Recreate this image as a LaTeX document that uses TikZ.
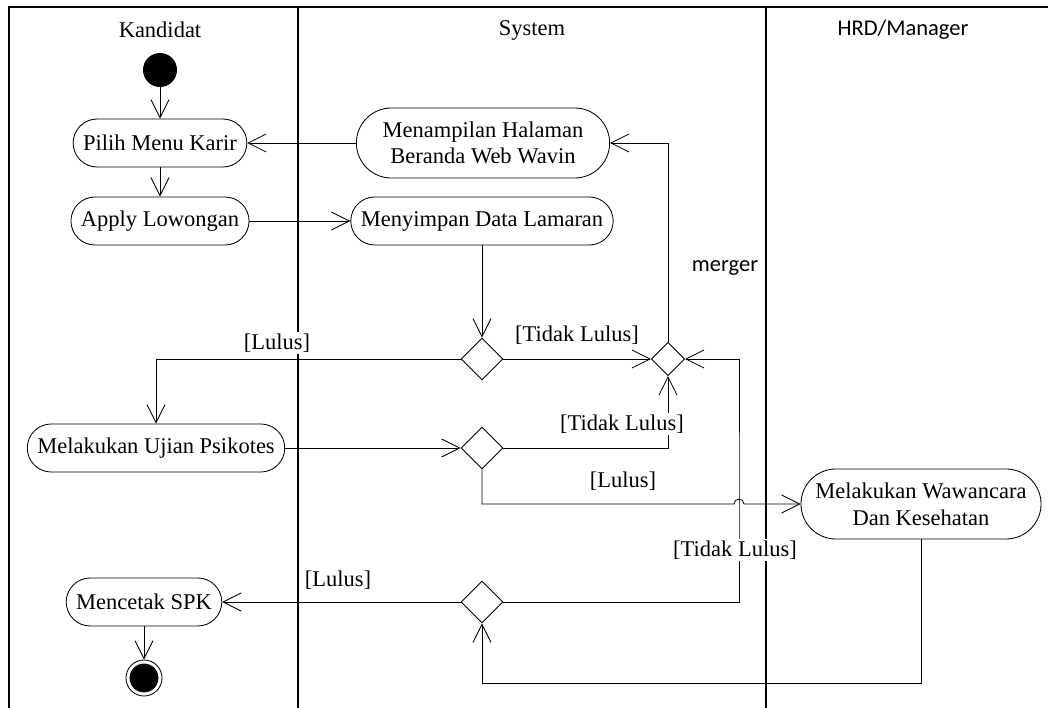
\documentclass[tikz,border=0pt]{standalone}
\usepackage{fontspec}
\setmainfont{Liberation Serif}
\newfontfamily\calibri{Carlito}
\usetikzlibrary{shapes.geometric, arrows.meta, calc}

\begin{document}
\begin{tikzpicture}[x=0.025cm, y=-0.025cm, line width=0.6pt,
  font=\fontsize{16}{19}\selectfont,
  lane/.style={line width=1pt},
  act/.style={draw, rounded corners=0.6cm, minimum height=1.2cm, inner xsep=0.25cm, align=center},
  bigact/.style={act, rounded corners=0.875cm, minimum height=1.75cm},
  choice/.style={draw, diamond, inner sep=0pt, minimum size=1.05cm},
  mergebox/.style={choice, minimum size=0.83cm},
  flow/.style={-{Straight Barb[length=0.45cm, width=0.45cm]}},
  guard/.style={fill=white, inner sep=1pt}]
\useasboundingbox (0,0) rectangle (1048,708);

% swimlanes
\draw[lane] (9,708) -- (9,7) -- (1048,7);
\draw[lane] (298,7) -- (298,708) (766,7) -- (766,708);
\node (kandidat) at (160,30) {Kandidat};
\node (system) at (532,30) {System};
\node[font=\calibri\fontsize{16}{19}\selectfont] (hrd) at (903,30) {HRD/Manager};

% states and activities
\node[circle, fill, inner sep=0pt, minimum size=0.85cm] (start) at (160,70) {};
\node[act] (pilih) at (160,143) {Pilih Menu Karir};
\node[act] (apply) at (160,221) {Apply Lowongan};
\node[bigact, minimum width=6.33cm] (tampil) at (483,143) {Menampilan Halaman\\Beranda Web Wavin};
\node[act] (simpan) at (482,221) {Menyimpan Data Lamaran};
\node[choice] (seleksi) at (482,359) {};
\node[mergebox] (merger) at (668,359) {};
\node[act] (psikotes) at (156,448) {Melakukan Ujian Psikotes};
\node[choice] (hasil) at (482,448) {};
\node[bigact, minimum width=6cm] (wawancara) at (921,504) {Melakukan Wawancara\\Dan Kesehatan};
\node[choice] (akhir) at (482,602) {};
\node[act] (spk) at (144,602) {Mencetak SPK};
\node[circle, draw, inner sep=0pt, minimum size=0.9cm,
      path picture={\fill (path picture bounding box.center) circle (0.36cm);}] (stop) at (144,678) {};

\coordinate (hop) at (739,504);
\coordinate (ret) at (921,683);

% flows
\draw[flow] (start) -- (pilih);
\draw[flow] (pilih) -- (apply);
\draw[flow] (tampil.west) -- (pilih.east);
\draw[flow] (apply.east) -- (simpan.west);
\draw[flow] (simpan.south) -- (seleksi.north);
\draw[flow] (seleksi.west) -| (psikotes.north);
\draw[flow] (seleksi.east) -- (merger.west);
\draw[flow] (merger.north) |- (tampil.east);
\draw[flow] (psikotes.east) -- (hasil.west);
\draw[flow] (hasil.east) -| (merger.south);
\draw[flow] (hasil.south) |- ($(hop)+(-5,0)$) arc[start angle=180, end angle=0, radius=0.125cm] -- (wawancara.west);
\draw[flow] (akhir.east) -| (hop) |- (merger.east);
\draw[flow] (wawancara.south) |- (ret) -| (akhir.south);
\draw[flow] (akhir.west) -- (spk.east);
\draw[flow] (spk) -- (stop);

% guards
\node[guard] (g1) at (277,343) {[Lulus]};
\node[guard] (g2) at (577,335) {[Tidak Lulus]};
\node[guard] (g3) at (622,424) {[Tidak Lulus]};
\node[guard] (g4) at (623,481) {[Lulus]};
\node[guard] (g5) at (735,550) {[Tidak Lulus]};
\node[guard] (g6) at (338,580) {[Lulus]};
\node[font=\calibri\fontsize{16}{19}\selectfont] (mergelabel) at (725,268) {merger};
\end{tikzpicture}
\end{document}
